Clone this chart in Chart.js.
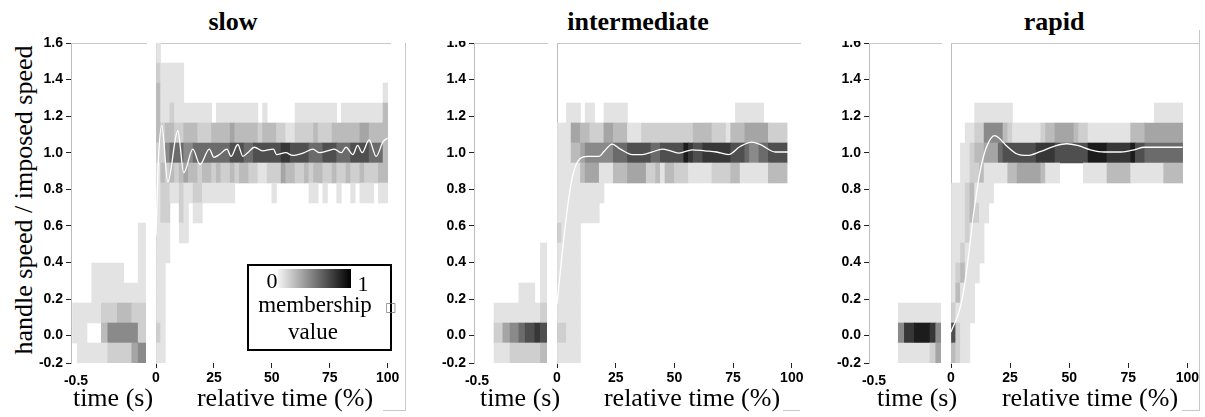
<!DOCTYPE html>
<html lang="en">
<head>
<meta charset="utf-8">
<title>handle speed membership</title>
<script src="https://cdn.jsdelivr.net/npm/chart.js@4.4.1/dist/chart.umd.min.js"></script>
<style>
  html, body { margin: 0; padding: 0; background: #ffffff; }
  body { position: relative; width: 1205px; height: 417px; overflow: hidden; font-family: "Liberation Serif", "Times New Roman", serif; color: #000; }
  .box { position: absolute; top: 0; height: 417px; }
  .clip { position: absolute; top: 41px; height: 376px; overflow: hidden; }
  .clip .box { top: -41px; left: 0; }
  .title { position: absolute; top: 9px; font-size: 26px; line-height: 26px; font-weight: bold; white-space: nowrap; transform: translateX(-50%); }
  .xlab { position: absolute; top: 385px; font-size: 26px; line-height: 26px; white-space: nowrap; transform: translateX(-50%); }
  .ylab { position: absolute; left: 24px; top: 200px; font-size: 26px; line-height: 26px; white-space: nowrap; transform: translate(-50%, -50%) rotate(-90deg); }
  .rule { position: absolute; background: #c8c8c8; }
  .legend { position: absolute; left: 247px; top: 264px; width: 141px; height: 83px; border: 2px solid #000; }
  .ramp { position: absolute; left: 278px; top: 269px; width: 73px; height: 19px; background: linear-gradient(to right, #f4f4f4, #000); }
  .lt { position: absolute; white-space: nowrap; line-height: 1; transform: translateX(-50%); }
</style>
</head>
<body>

<div class="title" style="left:233px">slow</div>
<div class="title" style="left:638px">intermediate</div>
<div class="title" style="left:1054px">rapid</div>
<div class="ylab">handle speed / imposed speed</div>

<div class="box" style="left:26px;width:124px"><canvas id="slowTime"></canvas></div>
<div class="box" style="left:148px;width:256px"><canvas id="slowRel"></canvas></div>
<div class="clip" style="left:429px;width:122px"><div class="box" style="width:122px"><canvas id="interTime"></canvas></div></div>
<div class="box" style="left:549px;width:265px"><canvas id="interRel"></canvas></div>
<div class="clip" style="left:824px;width:121px"><div class="box" style="width:121px"><canvas id="rapidTime"></canvas></div></div>
<div class="box" style="left:943px;width:263px"><canvas id="rapidRel"></canvas></div>

<div class="xlab" style="left:113px">time (s)</div>
<div class="xlab" style="left:285px">relative time (%)</div>
<div class="xlab" style="left:520px">time (s)</div>
<div class="xlab" style="left:692px">relative time (%)</div>
<div class="xlab" style="left:917px">time (s)</div>
<div class="xlab" style="left:1090px">relative time (%)</div>

<div class="rule" style="left:405px;top:43px;width:1px;height:368px"></div>
<div class="rule" style="left:383px;top:410px;width:22px;height:1px"></div>
<div class="rule" style="left:783px;top:410px;width:17px;height:1px"></div>
<div class="rule" style="left:1199px;top:30px;width:1px;height:381px"></div>
<div class="rule" style="left:1182px;top:410px;width:17px;height:1px"></div>

<div class="legend"></div>
<div class="ramp"></div>
<div class="lt" style="left:272px;top:270px;font-size:22px">0</div>
<div class="lt" style="left:363px;top:273px;font-size:22px">1</div>
<div class="lt" style="left:315px;top:293px;font-size:23px">membership</div>
<div class="lt" style="left:391px;top:301px;font-size:12px;font-family:'DejaVu Sans';color:#777">□</div>
<div class="lt" style="left:313px;top:320px;font-size:23px">value</div>

<script>
// y axis: 16 speed bins from -0.15 to 1.6
const yTickValues = [-0.15, 0, 0.2, 0.4, 0.6, 0.8, 1.0, 1.2, 1.4, 1.6];
const yTickLabels = ["-0.2", "0.0", "0.2", "0.4", "0.6", "0.8", "1.0", "1.2", "1.4", "1.6"];
const yBinStart = -0.15;
const yBinSize = 0.109375;

const relTicks = [0, 25, 50, 75, 100];
const relTickLabels = ["0", "25", "50", "75", "100"];
const timeTicks = [-0.5];
const timeTickLabels = ["-0.5"];

// relative time bins, 2 % wide
const relBinEdges = Array.from({ length: 51 }, (_, i) => i * 2);

// membership levels per cell (0 = empty, 1..9 light -> dark), rows from 1.6 down to -0.15
const slowRelCells = [
  "1",
  "211111",
  "31111100000000000000000000000000000000000000000001",
  "31121111111101111111110100000011111111101111111113",
  "32332233322233334333332333221122223222333333443333",
  "22566655666666667776677777788777766677766677776663",
  "13232343323323223233221122243322323322322322322233",
  "12211211221111111000000001000000011010010010111011",
  "1220021011",
  "1110011",
  "111",
  "11",
  "11",
  "11",
  "21",
  "11",
];
const slowTimeEdges = [-0.49, -0.46, -0.40, -0.37, -0.31, -0.27, -0.21, -0.17, -0.12, -0.08, -0.031];
const slowTimeCells = [
  "", "", "", "", "", "", "", "", "",
  "0000000001",
  "0000000001",
  "0001111001",
  "0001111111",
  "1111223322",
  "1100355552",
  "0111122245",
];
const slowMeanT = [0, 1.0, 2.5, 5.1, 9.4, 12.0, 15.9, 19.0, 23.0, 25.0, 27.4, 30.6, 32.4, 35.3, 37.5, 39.6, 42.5, 46.0, 50.7, 52.0, 56.0, 59.0, 64.0, 67.7, 70.6, 74.0, 77.0, 80.0, 82.0, 85.0, 87.0, 89.0, 92.0, 95.0, 98.0, 100];
const slowMeanV = [0.55, 0.95, 1.15, 0.84, 1.12, 0.89, 1.02, 0.935, 1.02, 0.975, 0.99, 1.02, 0.98, 1.045, 0.98, 1.0, 1.03, 1.01, 1.02, 0.99, 1.0, 0.985, 1.0, 1.02, 1.0, 1.01, 1.02, 1.0, 1.03, 0.99, 1.04, 1.0, 1.07, 0.98, 1.06, 1.08];

const interRelCells = [
  "", "", "",
  "00111011001111100000000000000000000000111111",
  "11144332224433311122222222222333322213334444422220",
  "11133455555566677777667777798778888887776556677770",
  "11111344411133344442231332221111122223311111133330",
  "1111111111",
  "111111111",
  "21111",
  "11111",
  "11111",
  "11111",
  "11111",
  "22111",
  "11111",
];
const interTimeEdges = [-0.375, -0.32, -0.275, -0.22, -0.18, -0.12, -0.085, -0.044];
const interTimeCells = [
  "", "", "", "", "", "", "", "", "", "",
  "0000001",
  "0000001",
  "0001101",
  "1111112",
  "2456787",
  "1122223",
];
const interMeanT = [0, 2.3, 5.1, 7.2, 10, 12.9, 17.9, 20, 23.5, 27, 32, 36.3, 40.6, 44.8, 49, 52, 57.6, 63, 68, 73, 78, 83, 86.7, 93, 98.7];
const interMeanV = [0.17, 0.46, 0.76, 0.9, 0.97, 0.98, 0.98, 1.007, 1.047, 1.02, 0.99, 0.99, 1.004, 1.02, 1.007, 0.998, 1.016, 1.01, 1.004, 0.99, 1.034, 1.058, 1.044, 1.004, 1.004];

const rapidRelCells = [
  "", "", "",
  "00000111111110000000000000000000000000000001111110",
  "00011225555321111112334444322111111111333444444440",
  "00112334446777777788887777777999988888977666666660",
  "00112231111133444443111000001111133333111111133330",
  "111231111",
  "11123211",
  "1112111",
  "1121111",
  "123111",
  "13111",
  "21111",
  "7211",
  "3211",
];
const rapidTimeEdges = [-0.317, -0.279, -0.217, -0.119, -0.083, -0.05];
const rapidTimeCells = [
  "", "", "", "", "", "", "", "", "", "", "", "", "",
  "11111",
  "58985",
  "11124",
];
const rapidMeanT = [0, 4.1, 6.2, 8, 9.7, 12.6, 15.4, 18.5, 20.3, 23, 28, 32.3, 38, 43.6, 49, 53.5, 59, 64.8, 72, 77.5, 81.8, 88.8, 98];
const rapidMeanV = [0.02, 0.163, 0.317, 0.5, 0.68, 0.917, 1.044, 1.094, 1.08, 1.044, 0.993, 0.985, 1.007, 1.035, 1.049, 1.04, 1.016, 1.004, 1.004, 1.016, 1.03, 1.03, 1.03];

const grayLevels = ["", "#e3e3e3", "#cfcfcf", "#bbbbbb", "#a5a5a5", "#8a8a8a", "#6b6b6b", "#4f4f4f", "#373737", "#1c1c1c"];

Chart.defaults.font.family = '"Liberation Sans", Arial, sans-serif';
Chart.defaults.color = "#000";

// one floating horizontal bar per run of equal cells in a row
function heatCells(rows, edges) {
  const cells = [];
  const colors = [];
  rows.forEach((row, i) => {
    const y = yBinStart + (rows.length - 1 - i + 0.5) * yBinSize;
    let c = 0;
    while (c < row.length) {
      let end = c + 1;
      while (end < row.length && row[end] === row[c]) end++;
      const level = Number(row[c]);
      if (level > 0) {
        cells.push({ x: [edges[c], edges[end]], y });
        colors.push(grayLevels[level]);
      }
      c = end;
    }
  });
  return { cells, colors };
}

function drawPart(canvasId, part) {
  const isTime = part.kind === "time";
  const heat = heatCells(part.rows, part.edges);
  const datasets = [];
  if (part.meanT) {
    datasets.push({
      type: "line",
      data: part.meanT.map((t, i) => ({ x: t, y: part.meanV[i] })),
      borderColor: "#ffffff",
      borderWidth: 1.3,
      pointRadius: 0,
      cubicInterpolationMode: "monotone",
      order: 0,
      xAxisID: "x",
      yAxisID: "y",
    });
  }
  datasets.push({
    type: "bar",
    indexAxis: "y",
    data: heat.cells,
    backgroundColor: heat.colors,
    borderWidth: 0,
    barPercentage: 1,
    categoryPercentage: 1,
    order: 1,
    xAxisID: "x",
    yAxisID: "y",
  });

  return new Chart(document.getElementById(canvasId), {
    type: "bar",
    data: { datasets },
    options: {
      responsive: true,
      maintainAspectRatio: false,
      animation: false,
      events: [],
      layout: { padding: { top: 43, bottom: 0, left: part.padLeft, right: part.padRight } },
      plugins: { legend: { display: false }, tooltip: { enabled: false } },
      scales: {
        x: {
          type: "linear",
          axis: "x",
          position: "bottom",
          min: part.xMin,
          max: part.xMax,
          offset: false,
          afterBuildTicks: (s) => { s.ticks = part.ticks.map((v) => ({ value: v })); },
          afterFit: (s) => { s.height = 54; },
          ticks: {
            autoSkip: false,
            maxRotation: 0,
            padding: isTime ? 10 : 2,
            labelOffset: part.labelOffset || 0,
            font: { size: 14, weight: "bold" },
            callback: (v, i) => part.tickLabels[i],
          },
          grid: isTime
            ? { display: false, drawTicks: false, offset: false }
            : { drawOnChartArea: false, tickLength: 5, color: "#222", offset: false },
          border: { display: false },
        },
        y: {
          type: "linear",
          axis: "y",
          position: "left",
          min: -0.15,
          max: 1.6,
          offset: false,
          afterBuildTicks: (s) => { s.ticks = yTickValues.map((v) => ({ value: v })); },
          afterFit: (s) => { s.width = isTime ? 45 : 0; },
          ticks: {
            display: isTime,
            autoSkip: false,
            padding: 3,
            font: { size: 14, weight: "bold" },
            callback: (v, i) => yTickLabels[i],
          },
          grid: isTime
            ? { drawOnChartArea: false, tickLength: 5, color: "#222", offset: false }
            : { display: false, drawTicks: false, offset: false },
          border: { display: true, color: "#bdbdbd" },
        },
        xTop: {
          type: "linear",
          axis: "x",
          position: "top",
          ticks: { display: false },
          grid: { display: false, drawTicks: false },
          border: { display: true, color: "#c8c8c8" },
          afterFit: (s) => { s.height = 0; },
        },
      },
    },
  });
}

drawPart("slowTime", {
  kind: "time", rows: slowTimeCells, edges: slowTimeEdges,
  xMin: -0.5, xMax: -0.031, ticks: timeTicks, tickLabels: timeTickLabels,
  labelOffset: 5, padLeft: 0, padRight: 4,
});
drawPart("slowRel", {
  kind: "rel", rows: slowRelCells, edges: relBinEdges, meanT: slowMeanT, meanV: slowMeanV,
  xMin: 0, xMax: 101, ticks: relTicks, tickLabels: relTickLabels,
  padLeft: 8, padRight: 14,
});
drawPart("interTime", {
  kind: "time", rows: interTimeCells, edges: interTimeEdges,
  xMin: -0.5, xMax: -0.044, ticks: timeTicks, tickLabels: timeTickLabels,
  labelOffset: 3, padLeft: 0, padRight: 4,
});
drawPart("interRel", {
  kind: "rel", rows: interRelCells, edges: relBinEdges, meanT: interMeanT, meanV: interMeanV,
  xMin: 0, xMax: 103.5, ticks: relTicks, tickLabels: relTickLabels,
  padLeft: 8, padRight: 14,
});
drawPart("rapidTime", {
  kind: "time", rows: rapidTimeCells, edges: rapidTimeEdges,
  xMin: -0.5, xMax: -0.05, ticks: timeTicks, tickLabels: timeTickLabels,
  labelOffset: 5, padLeft: 0, padRight: 4,
});
drawPart("rapidRel", {
  kind: "rel", rows: rapidRelCells, edges: relBinEdges, meanT: rapidMeanT, meanV: rapidMeanV,
  xMin: 0, xMax: 104.5, ticks: relTicks, tickLabels: relTickLabels,
  padLeft: 8, padRight: 8,
});
</script>
</body>
</html>
